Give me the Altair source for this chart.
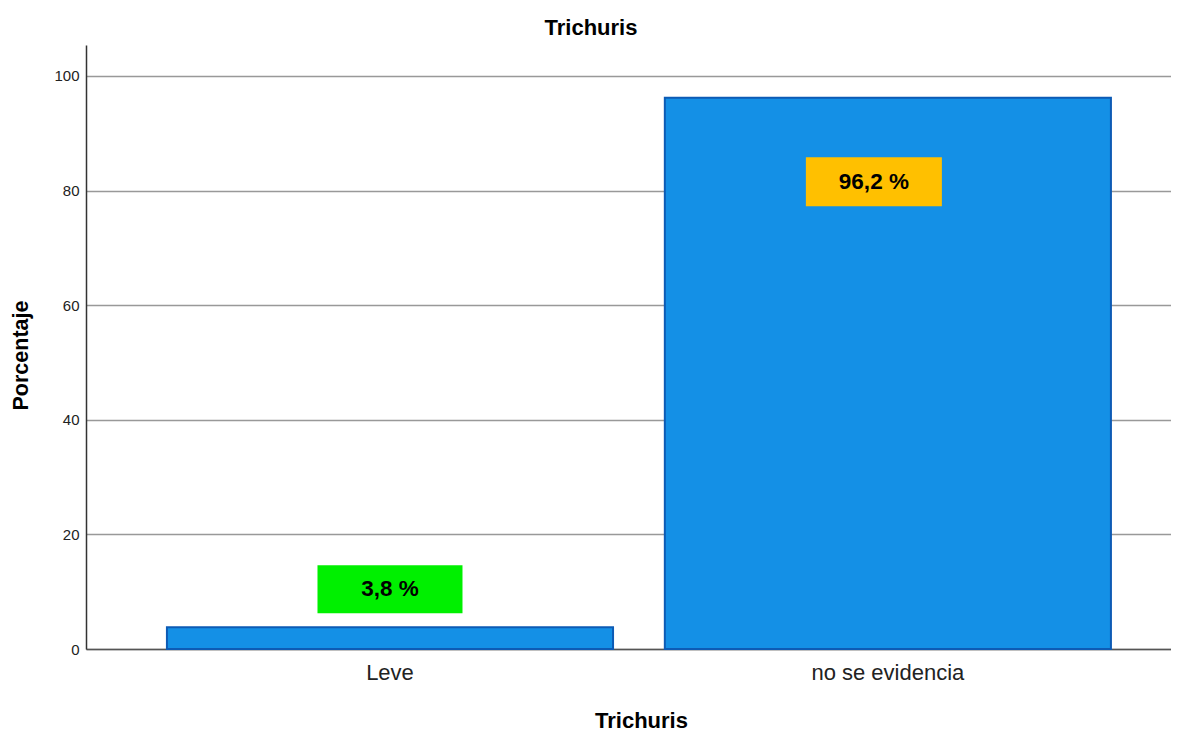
import altair as alt
import pandas as pd

categories = ["Leve", "no se evidencia"]
percentages = [3.8, 96.2]
label_texts = ["3,8 %", "96,2 %"]

df = pd.DataFrame({"cat": categories, "pct": percentages, "lbl": label_texts})

FONT = "Liberation Sans"

x_enc = alt.X(
    "cat:N",
    sort=categories,
    title="Trichuris",
    scale=alt.Scale(paddingInner=0.104, paddingOuter=0.1416, align=0.574),
    axis=alt.Axis(
        labelAngle=0, labelFontSize=22, labelColor="#222222", labelFont=FONT,
        labelPadding=13, ticks=False, domainColor="#555555", domainWidth=1.5,
        titleFontSize=22, titleFont=FONT, titleFontWeight="bold", titleColor="#000000",
        titlePadding=27, titleX=555,
    ),
)
y_scale = alt.Scale(domain=[0, 105.4], nice=False)
y_axis = alt.Axis(
    values=[0, 20, 40, 60, 80, 100], ticks=False, labelFontSize=15, labelFont=FONT,
    labelColor="#222222", labelPadding=7, domainColor="#333333", domainWidth=1.5,
    grid=True, gridColor="#999999", gridWidth=1.5,
    title="Porcentaje", titleFontSize=21.5, titleFont=FONT, titleFontWeight="bold",
    titleColor="#000000", titlePadding=21, titleY=310,
)

base = alt.Chart(df)

bars = base.mark_bar(fill="#1490E6", stroke="#0D5BB5", strokeWidth=2).encode(
    x=x_enc,
    y=alt.Y("pct:Q", scale=y_scale, axis=y_axis),
)

box_leve = base.transform_filter(alt.datum.cat == categories[0]).mark_point(
    shape="M-1,-0.331L1,-0.331L1,0.331L-1,0.331Z", size=145 * 145, filled=True,
    fill="#00F000", opacity=1, strokeWidth=0, yOffset=-38,
).encode(x=alt.X("cat:N", sort=categories), y=alt.Y("pct:Q"))

text_leve = base.transform_filter(alt.datum.cat == categories[0]).mark_text(
    font=FONT, fontSize=22.5, fontWeight="bold", color="#000000", yOffset=-38,
    baseline="middle",
).encode(x=alt.X("cat:N", sort=categories), y=alt.Y("pct:Q"), text="lbl:N")

box_no = base.transform_filter(alt.datum.cat == categories[1]).mark_point(
    shape="M-1,-0.36L1,-0.36L1,0.36L-1,0.36Z", size=136 * 136, filled=True,
    fill="#FFC000", opacity=1, strokeWidth=0, yOffset=84, xOffset=-14,
).encode(x=alt.X("cat:N", sort=categories), y=alt.Y("pct:Q"))

text_no = base.transform_filter(alt.datum.cat == categories[1]).mark_text(
    font=FONT, fontSize=22.5, fontWeight="bold", color="#000000", yOffset=84,
    xOffset=-14, baseline="middle",
).encode(x=alt.X("cat:N", sort=categories), y=alt.Y("pct:Q"), text="lbl:N")

chart = alt.layer(bars, box_leve, text_leve, box_no, text_no).properties(
    width=1085,
    height=604,
    title=alt.TitleParams("Trichuris", font=FONT, fontSize=22, fontWeight="bold",
                          color="#000000", anchor="middle", frame="bounds", offset=5),
    padding={"left": 78, "top": 37, "right": 0, "bottom": 82},
    autosize=alt.AutoSizeParams(type="none"),
).configure(background="#ffffff").configure_view(strokeWidth=0, stroke="transparent")

chart.save("out.html", embed_options={"renderer": "svg", "actions": False})
